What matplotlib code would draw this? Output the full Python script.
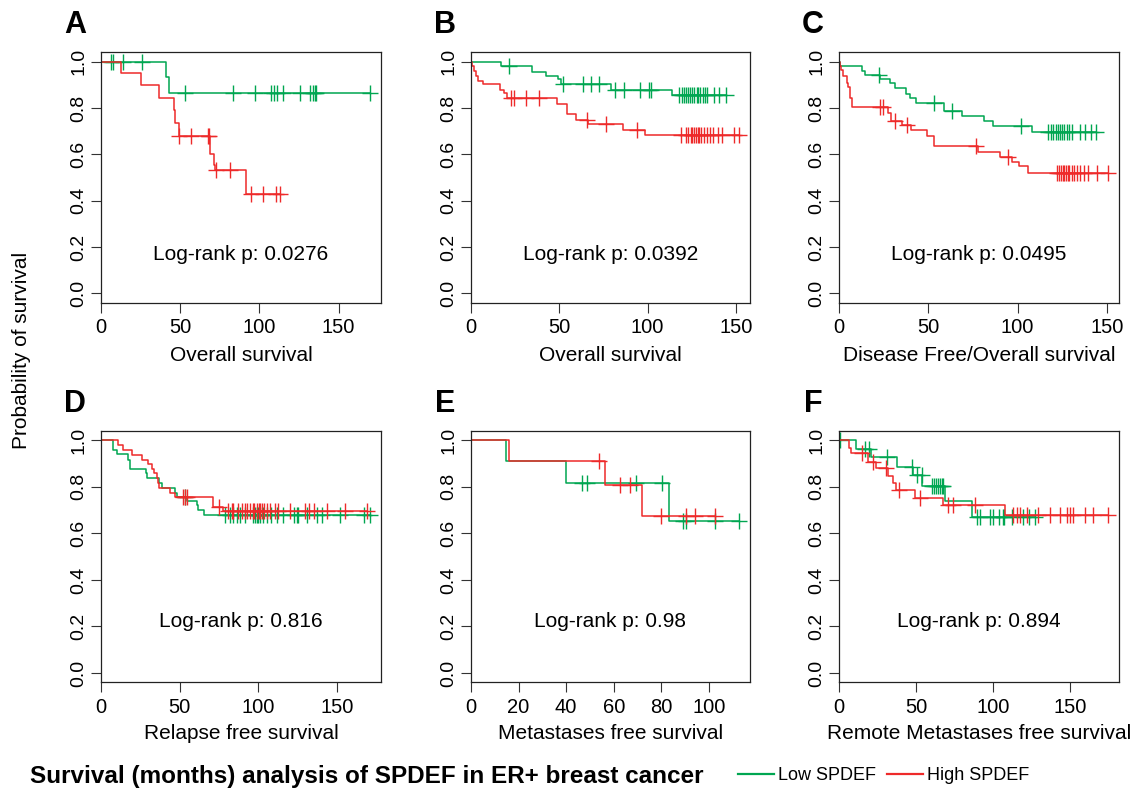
import matplotlib
matplotlib.use("Agg")
import matplotlib.pyplot as plt
import numpy as np
from matplotlib.lines import Line2D

plt.rcParams["font.family"] = ["Liberation Sans", "DejaVu Sans"]

GREEN = "#00a651"
RED = "#ee2a2a"

letters = ["A", "B", "C", "D", "E", "F"]
xlabels = ["Overall survival", "Overall survival", "Disease Free/Overall survival",
           "Relapse free survival", "Metastases free survival",
           "Remote Metastases free survival"]
pvalues = ["0.0276", "0.0392", "0.0495", "0.816", "0.98", "0.894"]

# A - Overall survival
a_low_t = [41.3, 42.8]
a_low_s = [0.933, 0.866]
a_low_c = [6.1, 7.7, 14.1, 25.6, 53.1, 83.2, 97.0, 107.4, 109.1, 111.0, 114.7,
           125.7, 132.1, 133.6, 135.0, 136.0, 170.0]
a_high_t = [12.4, 25.1, 36.7, 45.9, 46.8, 49.1, 68.9, 71.4, 72.0, 91.6]
a_high_s = [0.95, 0.897, 0.843, 0.79, 0.737, 0.681, 0.603, 0.555, 0.533, 0.428]
a_high_c = [49.5, 56.9, 67.8, 68.5, 72.6, 81.5, 94.8, 102.6, 110.6, 113.1]

# B - Overall survival
b_low_t = [16.9, 34.8, 42.6, 49.2, 51.1, 79.5, 113.8]
b_low_s = [0.981, 0.957, 0.938, 0.924, 0.902, 0.878, 0.854]
b_low_c = [21.6, 52.1, 63.5, 68.2, 72.3, 81.4, 86.5, 95.5, 101.0, 102.1, 117.8,
           119.2, 120.7, 121.6, 122.9, 124.1, 125.4, 126.4, 127.7, 128.8, 129.7,
           131.1, 132.4, 133.9, 137.7, 140.5, 144.3]
b_high_t = [0.3, 1.7, 2.7, 3.8, 7.0, 16.5, 18.8, 20.3, 48.7, 54.4, 59.5, 66.1,
            86.0, 98.3]
b_high_s = [0.979, 0.960, 0.938, 0.918, 0.902, 0.878, 0.864, 0.841, 0.816,
            0.775, 0.749, 0.731, 0.707, 0.683]
b_high_c = [22.7, 24.1, 31.3, 38.3, 65.7, 76.7, 94.1, 118.8, 121.6, 122.9, 124.4,
            125.4, 126.4, 127.3, 128.3, 129.2, 130.5, 132.0, 133.5, 135.4, 137.3,
            139.6, 141.9, 149.1, 151.9]

# C - Disease free / overall survival
c_low_t = [0.3, 12.7, 14.5, 23.0, 28.5, 31.3, 37.5, 39.7, 42.9, 58.8, 69.0,
           81.3, 86.0, 108.2]
c_low_s = [0.983, 0.961, 0.943, 0.924, 0.907, 0.884, 0.861, 0.842, 0.823,
           0.788, 0.765, 0.742, 0.721, 0.697]
c_low_c = [22.4, 53.4, 63.4, 101.8, 117.1, 118.4, 120.0, 121.3, 122.4, 123.7,
           124.8, 126.1, 127.4, 128.7, 130.2, 134.9, 137.7, 140.8, 143.6]
c_high_t = [0.3, 0.9, 2.4, 4.3, 5.2, 6.2, 7.1, 27.6, 28.9, 35.4, 40.3, 49.0,
            53.2, 78.0, 90.1, 97.0, 100.9, 105.9]
c_high_s = [0.979, 0.964, 0.936, 0.907, 0.892, 0.842, 0.802, 0.777, 0.744,
            0.727, 0.703, 0.677, 0.634, 0.612, 0.588, 0.569, 0.548, 0.519]
c_high_c = [22.9, 24.8, 31.3, 38.3, 76.7, 94.4, 121.8, 123.1, 124.2, 125.2,
            126.1, 127.1, 128.0, 128.9, 130.2, 131.5, 133.0, 134.9, 137.1, 139.5,
            144.2, 150.7]

# D - Relapse free survival
d_low_t = [7.8, 9.9, 17.4, 18.4, 28.6, 29.4, 37.1, 38.5, 47.1, 48.1, 54.9,
           60.8, 61.9, 65.7]
d_low_s = [0.958, 0.940, 0.916, 0.877, 0.858, 0.840, 0.815, 0.797, 0.775,
           0.758, 0.740, 0.720, 0.701, 0.677]
d_low_c = [53.4, 78.8, 82.0, 84.1, 86.2, 88.4, 91.5, 96.4, 97.9, 98.9, 100.0,
           101.0, 103.2, 105.3, 107.8, 111.7, 115.9, 122.3, 124.4, 125.4, 130.7,
           137.1, 140.3, 151.9, 166.8, 171.0]
d_high_t = [11.0, 13.8, 19.5, 25.8, 30.1, 32.2, 33.9, 35.4, 36.4, 36.9, 43.9,
            47.1, 71.4, 77.3]
d_high_s = [0.980, 0.958, 0.937, 0.916, 0.897, 0.877, 0.858, 0.837, 0.815,
            0.794, 0.775, 0.758, 0.712, 0.698]
d_high_c = [52.3, 53.4, 54.4, 75.0, 80.9, 83.1, 84.1, 87.3, 89.4, 91.5, 92.6,
            94.7, 96.4, 97.4, 98.9, 100.2, 101.0, 102.1, 103.6, 105.3, 107.4,
            110.6, 112.7, 120.1, 129.7, 131.8, 135.0, 143.4, 155.1, 168.9]

# E - Metastases free survival
e_low_t = [14.6, 39.9, 83.4]
e_low_s = [0.909, 0.818, 0.655]
e_low_c = [46.7, 48.8, 69.5, 80.2, 89.2, 90.3, 102.5, 112.8]
e_high_t = [16.0, 56.5, 72.0]
e_high_s = [0.909, 0.808, 0.673]
e_high_c = [53.9, 62.6, 66.7, 79.7, 90.3, 94.2, 102.5]

# F - Remote metastases free survival
f_low_t = [11.1, 20.6, 37.5, 48.3, 54.1, 68.9, 86.2]
f_low_s = [0.963, 0.927, 0.887, 0.851, 0.805, 0.740, 0.672]
f_low_c = [0.6, 16.9, 19.5, 31.4, 47.3, 50.5, 53.7, 60.2, 61.8, 63.1, 64.1,
           65.6, 66.7, 67.8, 89.4, 91.7, 98.2, 100.3, 104.2, 106.4, 107.3, 112.2,
           119.9, 123.7, 127.4]
f_high_t = [6.5, 7.6, 19.1, 24.0, 32.0, 35.3, 37.0, 49.4, 67.8, 107.9]
f_high_s = [0.966, 0.944, 0.908, 0.880, 0.848, 0.815, 0.787, 0.754, 0.720,
            0.677]
f_high_c = [14.7, 22.3, 30.5, 39.0, 52.6, 71.1, 74.3, 88.4, 113.4, 115.9, 117.6,
            122.0, 129.6, 137.2, 143.7, 148.0, 150.2, 151.9, 159.9, 165.3, 175.0]

curves = [
    (a_low_t, a_low_s, a_low_c, a_high_t, a_high_s, a_high_c),
    (b_low_t, b_low_s, b_low_c, b_high_t, b_high_s, b_high_c),
    (c_low_t, c_low_s, c_low_c, c_high_t, c_high_s, c_high_c),
    (d_low_t, d_low_s, d_low_c, d_high_t, d_high_s, d_high_c),
    (e_low_t, e_low_s, e_low_c, e_high_t, e_high_s, e_high_c),
    (f_low_t, f_low_s, f_low_c, f_high_t, f_high_s, f_high_c),
]


def km_curve(ax, times, surv, cens, color):
    times = np.asarray(times, dtype=float)
    surv = np.asarray(surv, dtype=float)
    cens = np.asarray(cens, dtype=float)
    tmax = max(cens.max(), times.max())
    x = np.concatenate([[0.0], times, [tmax]])
    y = np.concatenate([[1.0], surv, [surv[-1]]])
    line, = ax.step(x, y, where="post", color=color, lw=1.1)
    # censor marks sit on the curve level at their time
    levels = np.concatenate([[1.0], surv])
    idx = np.searchsorted(times, cens, side="right")
    ax.plot(cens, levels[idx], ls="none", marker="+", ms=11, mew=1.0,
            color=color)
    return line, tmax


W, H = 1137, 788
fig = plt.figure(figsize=(W / 100, H / 100), dpi=100)

col_left = [101, 471, 839]
col_width = [280, 279, 280]
row_top = [52.3, 431.0]
row_bottom = [302.7, 682.3]
text_y = [0.17, 0.22]
xlab_off = [0.209, 0.202]

for i, letter in enumerate(letters):
    r, c = divmod(i, 3)
    ax = fig.add_axes([col_left[c] / W, 1 - row_bottom[r] / H,
                       col_width[c] / W, (row_bottom[r] - row_top[r]) / H])
    lt, ls_, lc, ht, hs, hc = curves[i]
    low_line, t1 = km_curve(ax, lt, ls_, lc, GREEN)
    high_line, t2 = km_curve(ax, ht, hs, hc, RED)
    ax.set_xlim(0, 1.04 * max(t1, t2))
    ax.set_ylim(-0.04, 1.04)
    if letter == "E":
        ax.set_xticks([0, 20, 40, 60, 80, 100])
    else:
        ax.set_xticks([0, 50, 100, 150])
    yt = [0.0, 0.2, 0.4, 0.6, 0.8, 1.0]
    ax.set_yticks(yt)
    ax.set_yticklabels(["%.1f" % v for v in yt], rotation=90, va="center")
    ax.tick_params(axis="both", direction="out", length=7, width=0.8,
                   color="#333333")
    ax.tick_params(axis="x", labelsize=14.5, pad=4)
    ax.tick_params(axis="y", labelsize=14, pad=3)
    for sp in ax.spines.values():
        sp.set_linewidth(0.9)
        sp.set_color("#222222")
    ax.text(0.5, text_y[r], "Log-rank p: " + pvalues[i], transform=ax.get_yaxis_transform(),
            ha="center", va="center", fontsize=15)
    ax.text(0.5, -xlab_off[r], xlabels[i], transform=ax.transAxes,
            ha="center", va="center", fontsize=15)
    fig.text((col_left[c] - 26) / W, 1 - (row_top[r] - 27) / H, letter,
             ha="center", va="center", fontsize=22, fontweight="bold")

fig.text(22 / W, 1 - 350 / H, "Probability of survival", rotation=90,
         ha="center", va="center", fontsize=15)

fig.text(30 / W, 1 - 776 / H, "Survival (months) analysis of SPDEF in ER+ breast cancer",
         ha="left", va="center", fontsize=17.5, fontweight="bold")

handles = [Line2D([], [], color=GREEN, lw=1.6), Line2D([], [], color=RED, lw=1.6)]
fig.legend(handles, ["Low SPDEF", "High SPDEF"], loc="center left",
           bbox_to_anchor=(722 / W, 1 - 776 / H), ncol=2, frameon=False,
           handlelength=2.0, handletextpad=0.2, columnspacing=0.6,
           prop={"size": 13})

fig.savefig("out.png", dpi=100)
